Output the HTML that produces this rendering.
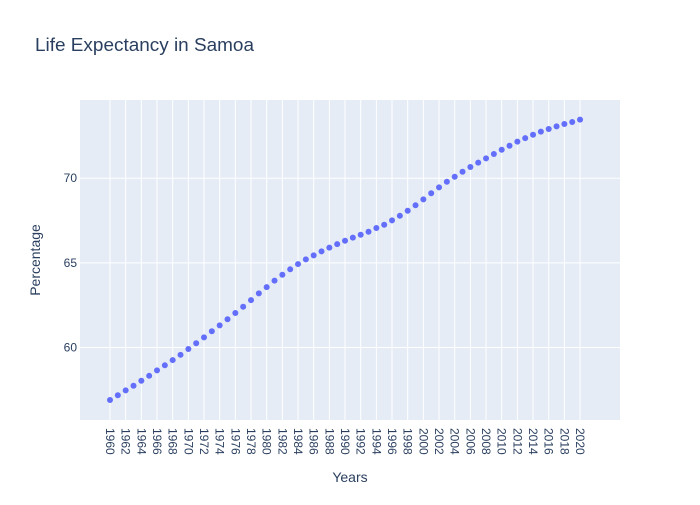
<!DOCTYPE html>
<html><head><meta charset="utf-8"><style>
body{margin:0;background:#fff;font-family:"Liberation Sans",sans-serif}
</style></head><body>
<svg id="chart" width="700" height="500" xmlns="http://www.w3.org/2000/svg">
<rect width="700" height="500" fill="#fff"/>
<text x="35" y="51" font-size="18" textLength="219" lengthAdjust="spacingAndGlyphs" fill="#2a3f5f">Life Expectancy in Samoa</text>
<rect x="80" y="100" width="540" height="320" fill="#e5ecf6"/>
<g id="grid"></g><g id="yticks"></g><g id="xticks"></g><g id="points"></g>
<text x="350" y="482" font-size="14" fill="#2a3f5f" text-anchor="middle">Years</text>
<text transform="translate(40,260) rotate(-90)" font-size="14" fill="#2a3f5f" text-anchor="middle">Percentage</text>
</svg>
<script>
const years=[];for(let y=1960;y<=2020;y++)years.push(y);
const values=[56.9,57.18,57.47,57.74,58.04,58.33,58.65,58.95,59.26,59.57,59.91,60.25,60.6,60.96,61.31,61.67,62.04,62.41,62.8,63.2,63.57,63.95,64.3,64.62,64.93,65.21,65.44,65.68,65.9,66.11,66.31,66.49,66.66,66.84,67.06,67.25,67.51,67.78,68.08,68.4,68.75,69.11,69.46,69.79,70.09,70.38,70.66,70.92,71.17,71.43,71.68,71.92,72.16,72.37,72.57,72.75,72.91,73.06,73.2,73.32,73.46];
const yTicks=[60,65,70];
const xTicks=[];for(let y=1960;y<=2020;y+=2)xTicks.push(y);
const NS="http://www.w3.org/2000/svg";
const xMin=1956.17,xMax=2025.1,yMin=55.72,yMax=74.62;
const X=v=>80+(v-xMin)/(xMax-xMin)*540;
const Y=v=>420-(v-yMin)/(yMax-yMin)*320;
function mk(tag,attrs,parent){const e=document.createElementNS(NS,tag);for(const k in attrs)e.setAttribute(k,attrs[k]);document.getElementById(parent).appendChild(e);return e;}
xTicks.forEach(t=>{
  const l=mk('line',{x1:X(t),x2:X(t),y1:100,y2:420,stroke:'#fff','stroke-width':1},'grid');
  
  
  const tx=mk('text',{transform:`translate(${X(t)-4},428) rotate(90)`,'font-size':12,fill:'#2a3f5f'},'xticks');
  tx.textContent=t;
  
  
});
yTicks.forEach(t=>{
  const l=mk('line',{x1:80,x2:620,y1:Y(t),y2:Y(t),stroke:'#fff','stroke-width':1},'grid');
  
  
  const tx=mk('text',{x:77,y:Y(t)+4,'font-size':12,fill:'#2a3f5f','text-anchor':'end'},'yticks');
  tx.textContent=t;
  
  
});
years.forEach((yr,i)=>{
  const c=mk('circle',{cx:X(yr),cy:Y(values[i]),r:3,fill:'#636efa'},'points');
  
  
});
</script>
</body></html>
